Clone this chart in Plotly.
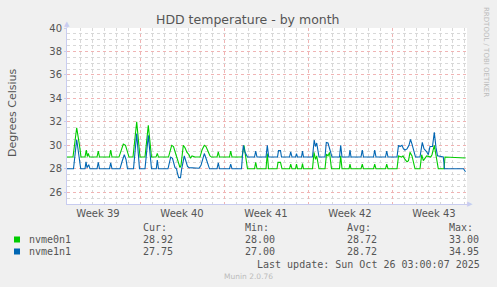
import pandas as pd
import plotly.graph_objects as go

# ---------------- data ----------------
start_time = "2025-09-22 22:00"
range_hours = 800

# nvme0n1 (green): breakpoints, hours since start / degrees
g_hours = [0, 12, 19.4, 23, 25, 28, 36, 38.6, 40.6, 42.6, 45, 60, 62.6, 65, 85, 87.4, 90,
           104, 110, 112.6, 117, 124, 132, 139.4, 146, 156, 162.6, 169, 178, 180.6, 183,
           203, 209.4, 213, 218, 222, 226, 228, 232.6, 236, 240, 244, 247, 250, 256,
           266, 270, 274.6, 278, 282, 286, 289, 300, 302.6, 305, 325, 327.4, 330,
           350, 354, 358, 361, 375, 377.4, 380, 398, 400.6, 403, 420, 422, 427, 430,
           445, 447.4, 450, 457, 459, 461, 469, 471, 473, 491, 494, 497, 499.4, 504,
           516, 519, 522, 525, 529, 545, 547.4, 550, 564, 566, 568, 588, 590.6, 593,
           613, 615.4, 618, 637, 639.4, 642, 660, 663, 669.4, 672, 676, 680, 683, 686,
           690, 694, 696, 706, 709.4, 712.6, 719.4, 727.4, 730, 734.6, 739, 742.6,
           754, 756, 797]
g_vals = [29, 29, 31.5, 30.2, 30.0, 29, 29, 29.6, 29.05, 29.3, 29, 29, 29.5, 29, 29, 29.6, 29,
          29, 29.9, 30.1, 30.0, 29, 29, 32.0, 29, 29, 31.7, 29, 29, 29.3, 29,
          29, 30.0, 29.9, 29.2, 28.6, 28.1, 28.3, 30.0, 29.8, 29.4, 29.2, 28.9, 29.1, 29,
          29, 29.6, 30.0, 29.9, 29.5, 29.1, 29, 29, 29.45, 29, 29, 29.5, 29,
          29, 30.0, 28.6, 28, 28, 28.55, 28, 28, 29.3, 28, 28, 28.55, 28.55, 28,
          28, 28.4, 28, 28, 28.4, 28, 28, 28.45, 28, 28, 29.4, 28.8, 29.1, 28,
          28, 29.25, 29.1, 29.4, 28, 28, 29.1, 28, 28, 28.4, 28, 28, 28.4, 28,
          28, 28.4, 28, 28, 28.4, 28, 28, 29.1, 29.0, 29.1, 28.8, 28.6, 28.7, 29.4,
          29.1, 28.3, 28, 28, 29.2, 28.7, 29.1, 29.0, 29.2, 30.0, 28.9, 28,
          28, 29, 28.92]

# nvme1n1 (blue)
b_hours = [0, 13, 19.4, 22, 27.4, 36, 38, 40, 43.4, 46, 60, 62.6, 65, 85, 87.4, 90,
           106, 110, 114.6, 118, 121, 133, 139.4, 145, 156, 162.6, 169, 178.6, 180.6, 183,
           202, 207.4, 211, 216, 219, 221, 223.4, 227, 229.4, 234.6, 238, 241, 244, 264,
           268, 274.6, 278, 282, 285, 300, 302.6, 305, 325, 327.4, 330,
           349, 352.6, 356, 359, 361, 375, 377.4, 380, 398, 400.6, 403.4, 421, 423, 427, 429,
           445, 447.4, 450, 457, 459, 461, 469, 471, 473, 491, 494.4, 497, 499.4, 504,
           516, 518.6, 522, 526, 530, 545, 547.4, 550, 564, 566, 568, 588, 590.6, 593,
           613, 615.4, 618, 637, 639.4, 642, 660, 663, 666, 670, 673, 676, 680, 684, 687,
           690, 692.6, 697, 706, 710.6, 714, 719.4, 722.6, 726, 731, 734.6, 738, 741,
           752.6, 755, 793, 797]
b_vals = [28, 28, 30.5, 29.6, 28, 28, 28.6, 28.1, 28.35, 28, 28, 28.55, 28, 28, 28.5, 28,
          28, 28.6, 29.2, 28.8, 28, 28, 31.0, 28, 28, 30.85, 28, 28, 28.75, 28,
          28, 29.0, 28.9, 28.1, 28, 27.6, 27.25, 27.25, 28, 29.1, 28.6, 28.2, 28.1, 28.05,
          28.3, 29.3, 28.9, 28.3, 28, 28, 28.5, 28, 28, 28.4, 28,
          28, 30.0, 29.4, 29.1, 29, 29, 29.5, 29, 29, 30.0, 29, 29, 29.55, 29.55, 29,
          29, 29.45, 29, 29, 29.3, 29, 29, 29.5, 29, 29, 30.45, 29.9, 30.2, 29,
          29, 30.25, 30.2, 29.6, 29, 29, 30.0, 29, 29, 29.6, 29, 29, 29.6, 29,
          29, 29.6, 29, 29, 29.5, 29, 29, 30.0, 29.9, 30.0, 29.7, 29.6, 29.7, 30.0, 30.5,
          30.1, 29.7, 29, 29, 30.25, 29.7, 29.45, 29.2, 29.9, 29.9, 31.1, 29.8, 29.1,
          29, 28, 28, 27.75]

series_names = ["nvme0n1", "nvme1n1"]
series_colors = ["#00CC00", "#0066B3"]
stat_headers = ["Cur:", "Min:", "Avg:", "Max:"]
stats = [["28.92", "28.00", "28.72", "33.00"],
         ["27.75", "27.00", "28.72", "34.95"]]
title_text = "HDD temperature - by month"
y_label = "Degrees Celsius"
last_update = "Last update: Sun Oct 26 03:00:07 2025"
footer = "Munin 2.0.76"
side_text = "RRDTOOL / TOBI OETIKER"

# ---------------- figure ----------------
W, H = 497, 287
L, R, T, B = 67, 467, 28, 204

t0 = pd.Timestamp(start_time)
def to_time(hours):
    return [t0 + pd.Timedelta(hours=h) for h in hours]

def px(x):
    return (x - L) / (R - L)

def py(y):
    return (B - y) / (B - T)

fig = go.Figure()
for hrs, vals, name, col in [(g_hours, g_vals, series_names[0], series_colors[0]),
                             (b_hours, b_vals, series_names[1], series_colors[1])]:
    fig.add_trace(go.Scatter(x=to_time(hrs), y=vals, mode="lines", name=name,
                             line=dict(color=col, width=1.1), showlegend=False,
                             hoverinfo="skip"))

txt = "#555555"
major_grid = "#F0B4B4"
minor_grid = "#D8D8D8"
fig.update_layout(
    width=W, height=H,
    margin=dict(l=L, r=W - R, t=T, b=H - B),
    paper_bgcolor="#F0F0F0", plot_bgcolor="#FFFFFF",
    font=dict(family="DejaVu Sans", size=10, color=txt),
    xaxis=dict(
        type="date",
        range=[t0, t0 + pd.Timedelta(hours=range_hours)],
        tick0="2025-09-22", dtick=7 * 86400000,
        ticklabelmode="period", tickformat="Week %V",
        showgrid=True, gridcolor=major_grid, griddash="dot", gridwidth=1,
        minor=dict(dtick=86400000, tick0="2025-09-22", showgrid=True,
                   gridcolor=minor_grid, griddash="dot", gridwidth=1),
        ticks="", showline=True, linecolor="#C8CCF0", linewidth=1,
        zeroline=False, tickfont=dict(size=10, color=txt),
    ),
    yaxis=dict(
        range=[25, 40], dtick=2, tick0=0,
        showgrid=True, gridcolor=major_grid, griddash="dot", gridwidth=1,
        minor=dict(dtick=0.5, showgrid=True, gridcolor=minor_grid,
                   griddash="dot", gridwidth=1),
        ticks="outside", ticklen=2, tickcolor="#C8CCF0",
        showline=True, linecolor="#C8CCF0", linewidth=1,
        zeroline=False, tickfont=dict(size=10, color=txt),
    ),
)

ann = []
ann.append(dict(text=title_text, x=px(248), y=py(19), xref="paper", yref="paper",
                showarrow=False, xanchor="center", yanchor="middle",
                font=dict(size=12.5, color=txt)))
ann.append(dict(text=y_label, x=px(12), y=py(112), xref="paper", yref="paper",
                showarrow=False, textangle=-90, xanchor="center", yanchor="middle",
                font=dict(size=11, color=txt)))
ann.append(dict(text=side_text, x=px(486), y=py(52), xref="paper", yref="paper",
                showarrow=False, textangle=90, xanchor="center", yanchor="middle",
                font=dict(size=7, color="#BBBBBB")))
# axis arrows
ann.append(dict(text="▲", x=px(67), y=py(24), xref="paper", yref="paper",
                showarrow=False, xanchor="center", yanchor="middle",
                font=dict(size=7, color="#C8CCF0")))
ann.append(dict(text="▶", x=px(470), y=py(204), xref="paper", yref="paper",
                showarrow=False, xanchor="center", yanchor="middle",
                font=dict(size=7, color="#C8CCF0")))

mono = "DejaVu Sans Mono"
col_x = [141, 243, 345, 447]
for hx, h in zip(col_x, stat_headers):
    ann.append(dict(text=h, x=px(hx), y=py(228), xref="paper", yref="paper",
                    showarrow=False, xanchor="left", yanchor="middle",
                    font=dict(family=mono, size=10, color=txt)))
shapes = []
for i, (name, col) in enumerate(zip(series_names, series_colors)):
    yy = 239.5 + i * 12
    ann.append(dict(text=name, x=px(27), y=py(yy), xref="paper", yref="paper",
                    showarrow=False, xanchor="left", yanchor="middle",
                    font=dict(family=mono, size=10, color=txt)))
    for hx, v in zip(col_x, stats[i]):
        ann.append(dict(text=v, x=px(hx), y=py(yy), xref="paper", yref="paper",
                        showarrow=False, xanchor="left", yanchor="middle",
                        font=dict(family=mono, size=10, color=txt)))
    shapes.append(dict(type="rect", xref="paper", yref="paper",
                       x0=px(14), x1=px(20), y0=py(yy - 3), y1=py(yy + 3),
                       fillcolor=col, line=dict(width=0)))
ann.append(dict(text=last_update, x=px(482), y=py(264), xref="paper", yref="paper",
                showarrow=False, xanchor="right", yanchor="middle",
                font=dict(family=mono, size=10, color=txt)))
ann.append(dict(text=footer, x=px(248), y=py(276), xref="paper", yref="paper",
                showarrow=False, xanchor="center", yanchor="middle",
                font=dict(size=7.5, color="#BBBBBB")))
# axis line extension on y above plot and x beyond right
shapes.append(dict(type="line", xref="paper", yref="paper", x0=0, x1=0,
                   y0=1, y1=py(24), line=dict(color="#C8CCF0", width=1)))
shapes.append(dict(type="line", xref="paper", yref="paper", x0=1, x1=px(470),
                   y0=0, y1=0, line=dict(color="#C8CCF0", width=1)))

fig.update_layout(annotations=ann, shapes=shapes)
fig.write_html("out.html")
